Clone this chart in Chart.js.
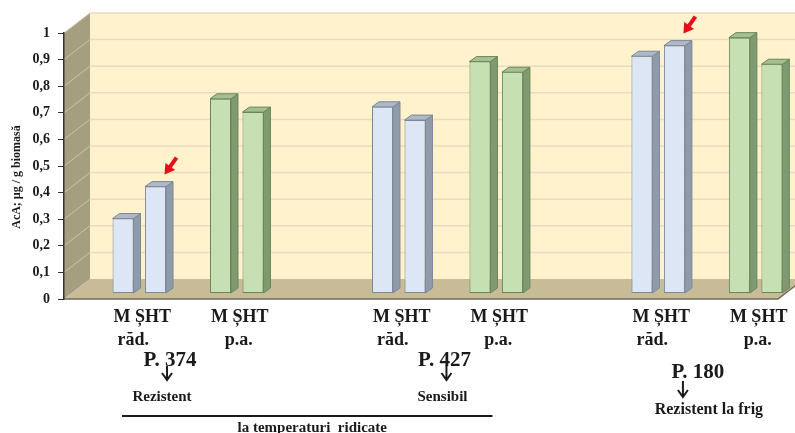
<!DOCTYPE html>
<html>
<head>
<meta charset="utf-8">
<script src="https://cdn.jsdelivr.net/npm/chart.js@4.4.0/dist/chart.umd.min.js"></script>
<style>
  html, body { margin: 0; padding: 0; background: #fff; overflow: hidden; }
  #wrap { width: 795px; height: 433px; }
</style>
</head>
<body>
<div id="wrap"><canvas id="acaChart"></canvas></div>
<script>
// genotypes and the two organs (roots / aerial parts), M and ȘHT in each
const groups = ['P. 374', 'P. 427', 'P. 180'];
const groupNotes = ['Rezistent', 'Sensibil', 'Rezistent la frig'];
const organs = ['răd.', 'p.a.'];
const forms = 'M ȘHT';
const heatNote = 'la temperaturi  ridicate';

const radM = [0.28, 0.70, 0.89];
const radSHT = [0.40, 0.65, 0.93];
const paM = [0.73, 0.87, 0.96];
const paSHT = [0.68, 0.83, 0.86];

// bars with the red arrow: [group, dataset]
const markedBars = [[0, 1], [2, 1]];

const serif = '"Liberation Serif", "Times New Roman", serif';
const DX = 26, DY = 20;

const blue = { face: '#DCE6F5', edge: '#7E8898', side: '#8F9AAA', top: '#AEB8C7' };
const green = { face: '#C6E0B4', edge: '#6A8759', side: '#7F9970', top: '#A5BF92' };

function pts(arr) {
    return groups.map((g, i) => ({ x: i, y: arr[i] }));
}

const walls = {
    id: 'walls',
    beforeDraw(chart) {
        const { ctx, chartArea: { left, right, top, bottom }, scales: { y } } = chart;
        ctx.save();
        // back wall
        ctx.fillStyle = '#FFF2CC';
        ctx.fillRect(left + DX, top - DY, chart.width - left - DX, bottom - top);
        ctx.strokeStyle = '#E7DCBF';
        ctx.lineWidth = 1.5;
        for (let v = 1; v <= 10; v++) {
            const py = y.getPixelForValue(v / 10) - DY;
            ctx.beginPath();
            ctx.moveTo(left + DX, py);
            ctx.lineTo(chart.width, py);
            ctx.stroke();
        }
        // side wall
        ctx.fillStyle = '#A69E81';
        ctx.beginPath();
        ctx.moveTo(left, top);
        ctx.lineTo(left + DX, top - DY);
        ctx.lineTo(left + DX, bottom - DY);
        ctx.lineTo(left, bottom);
        ctx.closePath();
        ctx.fill();
        ctx.strokeStyle = '#CBC4AC';
        ctx.lineWidth = 1;
        for (let v = 1; v <= 10; v++) {
            const py = y.getPixelForValue(v / 10);
            ctx.beginPath();
            ctx.moveTo(left, py);
            ctx.lineTo(left + DX, py - DY);
            ctx.stroke();
        }
        // floor
        ctx.fillStyle = '#C7BB98';
        ctx.beginPath();
        ctx.moveTo(left, bottom);
        ctx.lineTo(left + DX, bottom - DY);
        ctx.lineTo(right + DX, bottom - DY);
        ctx.lineTo(right, bottom);
        ctx.closePath();
        ctx.fill();
        ctx.strokeStyle = '#6F6A5A';
        ctx.lineWidth = 1.5;
        ctx.beginPath();
        ctx.moveTo(left, bottom);
        ctx.lineTo(right, bottom);
        ctx.lineTo(right + DX, bottom - DY);
        ctx.stroke();
        ctx.restore();
    }
};

const boxes = {
    id: 'boxes',
    afterDatasetsDraw(chart) {
        const ctx = chart.ctx;
        ctx.save();
        ctx.lineWidth = 1;
        chart.data.datasets.forEach((ds, d) => {
            if (!ds.pal) return;
            chart.getDatasetMeta(d).data.forEach(bar => {
                const { x, y, base, width } = bar.getProps(['x', 'y', 'base', 'width'], true);
                if (isNaN(y)) return;
                const l = x - width / 2, r = x + width / 2;
                ctx.strokeStyle = ds.pal.edge;
                ctx.fillStyle = ds.pal.side;
                ctx.beginPath();
                ctx.moveTo(r, y);
                ctx.lineTo(r + 7, y - 5);
                ctx.lineTo(r + 7, base - 5);
                ctx.lineTo(r, base);
                ctx.closePath();
                ctx.fill();
                ctx.stroke();
                ctx.fillStyle = ds.pal.top;
                ctx.beginPath();
                ctx.moveTo(l, y);
                ctx.lineTo(l + 7, y - 5);
                ctx.lineTo(r + 7, y - 5);
                ctx.lineTo(r, y);
                ctx.closePath();
                ctx.fill();
                ctx.stroke();
            });
        });
        // red arrows
        markedBars.forEach(([g, d]) => {
            const bar = chart.getDatasetMeta(d).data[g];
            const hx = bar.x + 9, hy = bar.y - 12;
            const tx = hx + 12, ty = hy - 17;
            const ang = Math.atan2(hy - ty, hx - tx);
            ctx.strokeStyle = '#E3101A';
            ctx.fillStyle = '#E3101A';
            ctx.lineWidth = 4;
            ctx.beginPath();
            ctx.moveTo(tx, ty);
            ctx.lineTo(hx - 6 * Math.cos(ang), hy - 6 * Math.sin(ang));
            ctx.stroke();
            ctx.beginPath();
            ctx.moveTo(hx, hy);
            ctx.lineTo(hx - 10 * Math.cos(ang) + 6 * Math.sin(ang), hy - 10 * Math.sin(ang) - 6 * Math.cos(ang));
            ctx.lineTo(hx - 10 * Math.cos(ang) - 6 * Math.sin(ang), hy - 10 * Math.sin(ang) + 6 * Math.cos(ang));
            ctx.closePath();
            ctx.fill();
        });
        ctx.restore();
    }
};

function downArrow(ctx, x, y0, y1) {
    ctx.lineWidth = 2;
    ctx.beginPath();
    ctx.moveTo(x, y0);
    ctx.lineTo(x, y1);
    ctx.moveTo(x - 5, y1 - 7);
    ctx.lineTo(x, y1);
    ctx.lineTo(x + 5, y1 - 7);
    ctx.stroke();
}

// text under the axis: organ labels, genotype names, notes
const captions = {
    id: 'captions',
    afterDraw(chart) {
        const ctx = chart.ctx;
        const xs = chart.scales.x;
        const m = d => chart.getDatasetMeta(d).data;
        const place = [
            { dx: -18, py: 366, ax: -21, a0: 366, a1: 380, ndx: -26, ny: 401, nf: 15 },
            { dx: -3, py: 366, ax: -1, a0: 365, a1: 380, ndx: -5, ny: 401, nf: 15 },
            { dx: -9, py: 378, ax: -24, a0: 381, a1: 397, ndx: 2, ny: 414, nf: 16 }
        ];
        ctx.save();
        ctx.fillStyle = '#1a1a1a';
        ctx.strokeStyle = '#1a1a1a';
        ctx.textAlign = 'center';
        groups.forEach((g, i) => {
            const cr = (m(0)[i].x + m(1)[i].x) / 2;
            const cp = (m(3)[i].x + m(4)[i].x) / 2;
            ctx.font = 'bold 18px ' + serif;
            ctx.fillText(forms, cr + 3, 322);
            ctx.fillText(organs[0], cr - 6, 345);
            ctx.fillText(forms, cp + 3, 322);
            ctx.fillText(organs[1], cp + 2, 345);
            const c = xs.getPixelForValue(i);
            const p = place[i];
            ctx.font = 'bold 21px ' + serif;
            ctx.fillText(g, c + p.dx, p.py);
            downArrow(ctx, c + p.ax, p.a0, p.a1);
            ctx.font = 'bold ' + p.nf + 'px ' + serif;
            ctx.fillText(groupNotes[i], c + p.ndx, p.ny);
        });
        const c0 = xs.getPixelForValue(0), c1 = xs.getPixelForValue(1);
        ctx.lineWidth = 2;
        ctx.beginPath();
        ctx.moveTo(c0 - 66, 416);
        ctx.lineTo(c1 + 45, 416);
        ctx.stroke();
        ctx.font = 'bold 15px ' + serif;
        ctx.fillText(heatNote, (c0 - 66 + c1 + 45) / 2 + 5, 432);
        // y axis title, a little below the middle like the original
        ctx.save();
        ctx.translate(17, 177);
        ctx.rotate(-Math.PI / 2);
        ctx.font = 'bold 12px ' + serif;
        ctx.textBaseline = 'middle';
        ctx.fillText('AcA; µg / g biomasă', 0, 0);
        ctx.restore();
        ctx.restore();
    }
};

const ctx = document.getElementById('acaChart').getContext('2d');
const acaChart = new Chart(ctx, {
    type: 'bar',
    data: {
        datasets: [
            { label: 'răd. M', data: pts(radM), pal: blue },
            { label: 'răd. ȘHT', data: pts(radSHT), pal: blue },
            { label: '', data: groups.map((g, i) => ({ x: i, y: null })) },
            { label: 'p.a. M', data: pts(paM), pal: green },
            { label: 'p.a. ȘHT', data: pts(paSHT), pal: green }
        ].map(ds => Object.assign(ds, {
            yAxisID: 'yBar',
            clip: false,
            backgroundColor: ds.pal ? ds.pal.face : 'transparent',
            borderColor: ds.pal ? ds.pal.edge : 'transparent',
            borderWidth: 1,
            borderSkipped: false,
            categoryPercentage: 0.626,
            barPercentage: 0.646
        }))
    },
    options: {
        responsive: true,
        maintainAspectRatio: false,
        animation: false,
        layout: { padding: { top: 33, right: 17, bottom: 134, left: 0 } },
        plugins: {
            legend: { display: false },
            tooltip: { enabled: false }
        },
        scales: {
            x: {
                type: 'linear',
                min: -0.478,
                max: 2.274,
                offset: false,
                display: false,
                ticks: { stepSize: 1, includeBounds: false }
            },
            y: {
                min: 0,
                max: 1,
                ticks: {
                    stepSize: 0.1,
                    padding: 8,
                    color: '#1a1a1a',
                    font: { family: serif, size: 14, weight: 'bold' },
                    callback: v => (v === 0 || v === 1) ? String(v) : v.toFixed(1).replace('.', ',')
                },
                grid: { drawOnChartArea: false, tickLength: 6, color: '#333' },
                border: { color: '#333', width: 1.5 },
                afterFit(scale) { scale.width = 64; }
            },
            yBar: {
                min: -0.0226,
                max: 0.9774,
                display: false
            }
        }
    },
    plugins: [walls, boxes, captions]
});
</script>
</body>
</html>
